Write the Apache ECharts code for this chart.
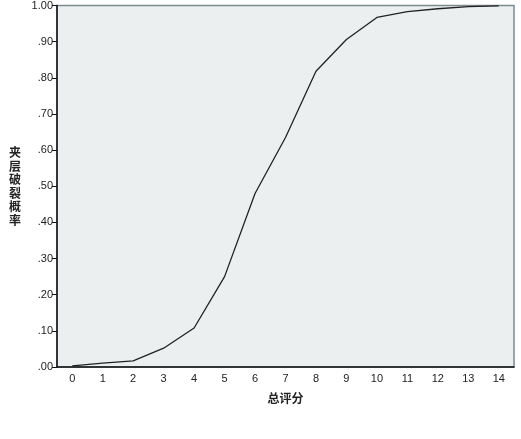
<!DOCTYPE html>
<html><head><meta charset="utf-8">
<script src="https://cdn.jsdelivr.net/npm/echarts@6/dist/echarts.min.js"></script>
<style>html,body{margin:0;padding:0;background:#fff}#c{width:521px;height:439px}</style>
</head><body><div id="c"></div>
<script>
const categories = ['0','1','2','3','4','5','6','7','8','9','10','11','12','13','14'];
const probability = [0.003,0.011,0.017,0.052,0.108,0.250,0.480,0.635,0.818,0.906,0.967,0.983,0.991,0.997,0.999];
const yTicks = [0,0.1,0.2,0.3,0.4,0.5,0.6,0.7,0.8,0.9,1.0];
const xName = '总评分';
const yName = '夹层破裂概率';

const chart = echarts.init(document.getElementById('c'), null, {renderer:'canvas'});
chart.setOption({
  animation:false,
  backgroundColor:'#ffffff',
  grid:{left:57,right:7,top:5,bottom:72,show:true,backgroundColor:'#ebeff0',borderColor:'#7d8b90',borderWidth:1.5},
  xAxis:{
    type:'category',data:categories,boundaryGap:true,
    name:xName,nameLocation:'middle',nameGap:25,
    nameTextStyle:{fontFamily:'Noto Sans CJK SC',fontWeight:'bold',fontSize:12,color:'#222'},
    axisLine:{lineStyle:{color:'#111',width:1.5}},
    axisTick:{alignWithLabel:true,length:5,lineStyle:{color:'#111'}},
    axisLabel:{fontFamily:'Liberation Sans',fontSize:11,color:'#222',margin:6},
    splitLine:{show:false}
  },
  yAxis:{
    type:'value',min:0,max:1,interval:0.1,
    name:yName.split('').join('\n'),nameLocation:'middle',nameGap:36,nameRotate:0,
    nameTextStyle:{fontFamily:'Noto Sans CJK SC',fontWeight:'bold',fontSize:12,color:'#222',lineHeight:12},
    axisLine:{show:true,lineStyle:{color:'#111',width:1.5}},
    axisTick:{show:true,length:5,lineStyle:{color:'#111'}},
    axisLabel:{fontFamily:'Liberation Sans',fontSize:11,color:'#222',margin:4,
      formatter:v=>{const t=yTicks.find(x=>Math.abs(x-v)<1e-9);const s=(t!==undefined?t:v).toFixed(2);return s.startsWith('0')?s.slice(1):s;}},
    splitLine:{show:false}
  },
  series:[{type:'line',data:probability,symbol:'none',lineStyle:{color:'#222',width:1.3}}]
});
// adjust vertical name spacing via rich text fallback
chart.setOption({yAxis:{nameTextStyle:{lineHeight:13.5}}});
</script></body></html>
